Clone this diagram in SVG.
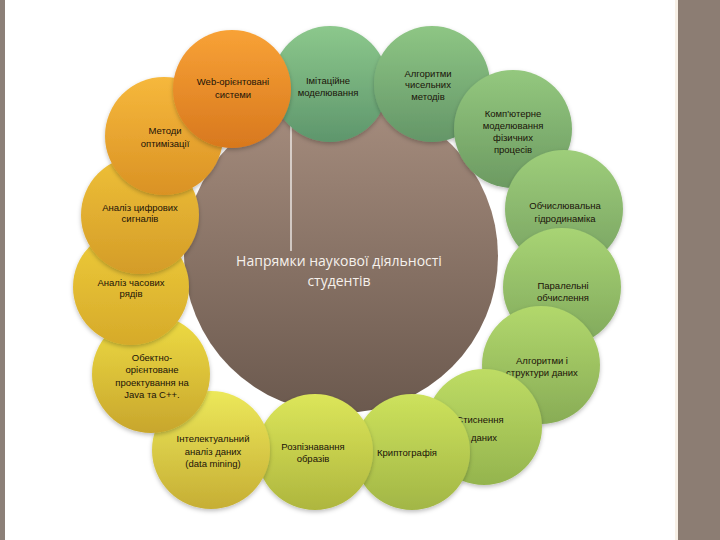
<svg xmlns="http://www.w3.org/2000/svg" width="720" height="540" viewBox="0 0 720 540">
<style>
.lbl{font-family:"Liberation Sans",Arial,sans-serif;font-size:9.5px;fill:#1a1208;text-anchor:middle}
.ctr{font-family:"Open Sans","Liberation Sans",sans-serif;font-size:14px;fill:#f6f1ec;text-anchor:middle}
.c{filter:url(#sh)}
</style>
<defs>
<filter id="sh" x="-20%" y="-20%" width="140%" height="140%"><feDropShadow dx="0" dy="2" stdDeviation="2" flood-color="#000" flood-opacity="0.25"/></filter>
<linearGradient id="gC" x1="0" y1="0" x2="0" y2="1"><stop offset="0" stop-color="#a68d7e"/><stop offset="1" stop-color="#6b594e"/></linearGradient>
<linearGradient id="g1" x1="0" y1="0" x2="0" y2="1"><stop offset="0" stop-color="#8cc88c"/><stop offset="1" stop-color="#5e966c"/></linearGradient>
<linearGradient id="g2" x1="0" y1="0" x2="0" y2="1"><stop offset="0" stop-color="#8ec684"/><stop offset="1" stop-color="#649668"/></linearGradient>
<linearGradient id="g3" x1="0" y1="0" x2="0" y2="1"><stop offset="0" stop-color="#94c87e"/><stop offset="1" stop-color="#6c9a62"/></linearGradient>
<linearGradient id="g4" x1="0" y1="0" x2="0" y2="1"><stop offset="0" stop-color="#9ece7a"/><stop offset="1" stop-color="#78a262"/></linearGradient>
<linearGradient id="g5" x1="0" y1="0" x2="0" y2="1"><stop offset="0" stop-color="#a8d474"/><stop offset="1" stop-color="#80a85c"/></linearGradient>
<linearGradient id="g6" x1="0" y1="0" x2="0" y2="1"><stop offset="0" stop-color="#b2d86c"/><stop offset="1" stop-color="#88ac56"/></linearGradient>
<linearGradient id="g7" x1="0" y1="0" x2="0" y2="1"><stop offset="0" stop-color="#bedc64"/><stop offset="1" stop-color="#94b44e"/></linearGradient>
<linearGradient id="g8" x1="0" y1="0" x2="0" y2="1"><stop offset="0" stop-color="#cde25c"/><stop offset="1" stop-color="#a2b646"/></linearGradient>
<linearGradient id="g9" x1="0" y1="0" x2="0" y2="1"><stop offset="0" stop-color="#dce65a"/><stop offset="1" stop-color="#aeb63e"/></linearGradient>
<linearGradient id="g10" x1="0" y1="0" x2="0" y2="1"><stop offset="0" stop-color="#ece85a"/><stop offset="1" stop-color="#c6ae34"/></linearGradient>
<linearGradient id="g11" x1="0" y1="0" x2="0" y2="1"><stop offset="0" stop-color="#eedc44"/><stop offset="1" stop-color="#c8a62c"/></linearGradient>
<linearGradient id="g12" x1="0" y1="0" x2="0" y2="1"><stop offset="0" stop-color="#eecc3a"/><stop offset="1" stop-color="#d6aa2a"/></linearGradient>
<linearGradient id="g13" x1="0" y1="0" x2="0" y2="1"><stop offset="0" stop-color="#eec038"/><stop offset="1" stop-color="#d49c28"/></linearGradient>
<linearGradient id="g14" x1="0" y1="0" x2="0" y2="1"><stop offset="0" stop-color="#f6b83c"/><stop offset="1" stop-color="#da9224"/></linearGradient>
<linearGradient id="g15" x1="0" y1="0" x2="0" y2="1"><stop offset="0" stop-color="#f8a236"/><stop offset="1" stop-color="#d8781e"/></linearGradient>
</defs>
<rect x="0" y="0" width="720" height="540" fill="#ffffff"/>
<rect x="0" y="0" width="5" height="540" fill="#8c8078"/>
<rect x="675" y="0" width="3" height="540" fill="#f8f0e6"/>
<rect x="678" y="0" width="42" height="540" fill="#8c7d73"/>

<g id="center">
<circle cx="341" cy="256" r="157" fill="url(#gC)"/>
</g>
<g id="connectors">
<line x1="291" y1="120" x2="291" y2="251" stroke="#ffffff" stroke-width="1.2"/>
</g>
<g id="center-label">
<text class="ctr" x="339" y="266">Напрямки наукової діяльності</text>
<text class="ctr" x="339" y="286">студентів</text>
</g>

<g id="n1"><circle class="c" cx="330" cy="84" r="58" fill="url(#g1)"/>
<text class="lbl" x="328" y="84">Імітаційне</text><text class="lbl" x="328" y="96">моделювання</text></g>
<g id="n2"><circle class="c" cx="432" cy="84" r="58" fill="url(#g2)"/>
<text class="lbl" x="428" y="77">Алгоритми</text><text class="lbl" x="428" y="88">чисельних</text><text class="lbl" x="428" y="100">методів</text></g>
<g id="n3"><circle class="c" cx="513" cy="129" r="59" fill="url(#g3)"/>
<text class="lbl" x="513" y="117">Комп'ютерне</text><text class="lbl" x="513" y="129">моделювання</text><text class="lbl" x="513" y="141">фізичних</text><text class="lbl" x="513" y="153">процесів</text></g>
<g id="n4"><circle class="c" cx="564" cy="209" r="59" fill="url(#g4)"/>
<text class="lbl" x="565" y="209">Обчислювальна</text><text class="lbl" x="565" y="222">гідродинаміка</text></g>
<g id="n5"><circle class="c" cx="562" cy="287" r="59" fill="url(#g5)"/>
<text class="lbl" x="563" y="289">Паралельні</text><text class="lbl" x="563" y="301">обчислення</text></g>
<g id="n6"><circle class="c" cx="541" cy="365" r="59" fill="url(#g6)"/>
<text class="lbl" x="542" y="364">Алгоритми і</text><text class="lbl" x="542" y="376">структури даних</text></g>
<g id="n7"><circle class="c" cx="484" cy="427" r="58" fill="url(#g7)"/>
<text class="lbl" x="480" y="423">Стиснення</text><text class="lbl" x="484" y="441">даних</text></g>
<g id="n8"><circle class="c" cx="412" cy="452" r="58" fill="url(#g8)"/>
<text class="lbl" x="407" y="456">Криптографія</text></g>
<g id="n9"><circle class="c" cx="315" cy="452" r="58" fill="url(#g9)"/>
<text class="lbl" x="313" y="450">Розпізнавання</text><text class="lbl" x="313" y="462">образів</text></g>
<g id="n10"><circle class="c" cx="211" cy="450" r="59" fill="url(#g10)"/>
<text class="lbl" x="213" y="442">Інтелектуальний</text><text class="lbl" x="213" y="455">аналіз даних</text><text class="lbl" x="213" y="467">(data mining)</text></g>
<g id="n11"><circle class="c" cx="151" cy="374" r="59" fill="url(#g11)"/>
<text class="lbl" x="152" y="361">Обектно-</text><text class="lbl" x="152" y="373">орієнтоване</text><text class="lbl" x="152" y="386">проектування на</text><text class="lbl" x="152" y="398">Java та C++.</text></g>
<g id="n12"><circle class="c" cx="131" cy="287" r="58" fill="url(#g12)"/>
<text class="lbl" x="131" y="286">Аналіз часових</text><text class="lbl" x="131" y="297">рядів</text></g>
<g id="n13"><circle class="c" cx="140" cy="215" r="59" fill="url(#g13)"/>
<text class="lbl" x="140" y="211">Аналіз цифрових</text><text class="lbl" x="140" y="222">сигналів</text></g>
<g id="n14"><circle class="c" cx="164" cy="136" r="59" fill="url(#g14)"/>
<text class="lbl" x="165" y="134">Методи</text><text class="lbl" x="165" y="147">оптимізації</text></g>
<g id="n15"><circle class="c" cx="232" cy="89" r="59" fill="url(#g15)"/>
<text class="lbl" x="233" y="85">Web-орієнтовані</text><text class="lbl" x="233" y="98">системи</text></g>
</svg>
